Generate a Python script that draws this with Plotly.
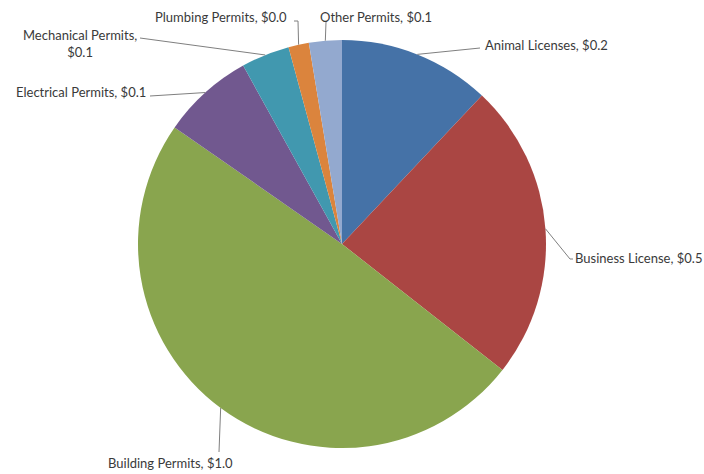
import math
import plotly.graph_objects as go

# ---- data ----
categories = ["Animal Licenses", "Business License", "Building Permits",
              "Electrical Permits", "Mechanical Permits", "Plumbing Permits",
              "Other Permits"]
values = [0.245, 0.48, 1.0, 0.148, 0.078, 0.033, 0.053]
colors = ["#4572A7", "#AA4643", "#89A54E", "#71588F", "#4198AF", "#DB843D", "#93A9CF"]

W, H = 704, 474
CX, CY, R = 342, 244, 204

label_text = [f"{c}, ${v:.1f}" for c, v in zip(categories, values)]
label_text[4] = f"{categories[4]},<br>${values[4]:.1f}"
layout_pts = [
    ([(480, 48)], (483, 45), "left"),
    ([(570, 259), (573, 259)], (573, 258), "left"),
    ([(219, 452)], (170, 463), "center"),
    ([(150, 96)], (148, 92), "right"),
    ([(140, 38)], (80, 44), "center"),
    ([(298, 21), (294, 21)], (289, 17), "right"),
    ([(326, 22)], (318, 17), "left"),
]

def px(x):
    return x / W

def py(y):
    return 1 - y / H

fig = go.Figure(go.Pie(
    labels=categories, values=values, sort=False, direction="clockwise",
    rotation=0, marker=dict(colors=colors, line=dict(width=0)),
    textinfo="none", hoverinfo="label+value", showlegend=False,
    domain=dict(x=[px(CX - R), px(CX + R)], y=[py(CY + R), py(CY - R)]),
))

total = sum(values)
cum = 0.0
shapes, annotations = [], []
for i, v in enumerate(values):
    mid = (cum + v / 2) / total * 2 * math.pi
    cum += v
    ax = CX + R * math.sin(mid)
    ay = CY - R * math.cos(mid)
    elbows, tpos, xanc = layout_pts[i]
    pts = [(ax, ay)] + elbows
    for (x0, y0), (x1, y1) in zip(pts[:-1], pts[1:]):
        shapes.append(dict(type="line", xref="paper", yref="paper",
                           x0=px(x0), y0=py(y0), x1=px(x1), y1=py(y1),
                           line=dict(color="#7f7f7f", width=1)))
    annotations.append(dict(x=px(tpos[0]), y=py(tpos[1]), xref="paper", yref="paper",
                            text=label_text[i], showarrow=False, xanchor=xanc,
                            yanchor="middle", align="center",
                            font=dict(family="Lato, Open Sans, sans-serif", size=13,
                                      color="#3a3a3a")))

fig.update_layout(width=W, height=H, margin=dict(l=0, r=0, t=0, b=0),
                  paper_bgcolor="white", plot_bgcolor="white",
                  shapes=shapes, annotations=annotations)
fig.write_html("out.html", config={"displayModeBar": False},
               post_script="document.body.style.margin='0';document.body.style.overflow='hidden';")
